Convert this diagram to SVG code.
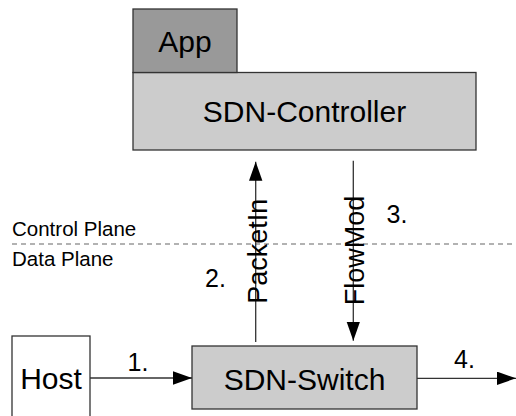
<svg xmlns="http://www.w3.org/2000/svg" width="516" height="416" viewBox="0 0 516 416">
  <style>
    text { font-family: "Liberation Sans", Arial, sans-serif; fill: #000; }
    .box { stroke: #333; stroke-width: 1.3; }
    .big { font-size: 30px; text-anchor: middle; }
    .num { font-size: 25px; }
    .plane { font-size: 20.5px; }
    .msg { font-size: 27px; text-anchor: middle; }
    .conn { fill: none; stroke: #333; stroke-width: 1.3; }
  </style>
  <defs>
    <marker id="head" markerUnits="userSpaceOnUse" markerWidth="20" markerHeight="14" refX="19" refY="6.7" orient="auto">
      <path d="M0,0 L19,6.7 L0,13.4 Z" fill="#000"/>
    </marker>
  </defs>
  <rect width="516" height="416" fill="#fff"/>

  <!-- plane separator -->
  <g id="planes">
    <line x1="12" y1="244" x2="516" y2="244" stroke="#666" stroke-width="1.2" stroke-dasharray="5,4"/>
    <text class="plane" x="12" y="235.5">Control Plane</text>
    <text class="plane" x="12" y="265.5">Data Plane</text>
  </g>

  <g id="controller">
    <rect class="box" x="133" y="72.5" width="343" height="77.5" fill="#cccccc"/>
    <text class="big" x="304.5" y="122">SDN-Controller</text>
  </g>

  <g id="app">
    <rect class="box" x="133" y="9" width="104" height="63.5" fill="#999999"/>
    <text class="big" x="185" y="52">App</text>
  </g>

  <g id="host">
    <rect class="box" x="12" y="336" width="78" height="90" fill="#fff"/>
    <text class="big" x="51" y="389">Host</text>
  </g>

  <g id="switch">
    <rect class="box" x="192" y="346" width="225" height="63" fill="#cccccc"/>
    <text class="big" x="304.5" y="390">SDN-Switch</text>
  </g>

  <g id="connectors">
    <path class="conn" d="M90,378 L192,378" marker-end="url(#head)"/>
    <text class="num" x="127.5" y="371">1.</text>

    <path class="conn" d="M255.7,342 L255.7,161.7" marker-end="url(#head)"/>
    <text class="msg" transform="translate(266.5,251.3) rotate(-90)">PacketIn</text>
    <text class="num" x="205" y="287">2.</text>

    <path class="conn" d="M353.3,160.7 L353.3,340.7" marker-end="url(#head)"/>
    <text class="msg" transform="translate(363.5,250.5) rotate(-90)">FlowMod</text>
    <text class="num" x="386.5" y="223">3.</text>

    <path class="conn" d="M417,378.3 L516,378.3" marker-end="url(#head)"/>
    <text class="num" x="454" y="368">4.</text>
  </g>
</svg>
